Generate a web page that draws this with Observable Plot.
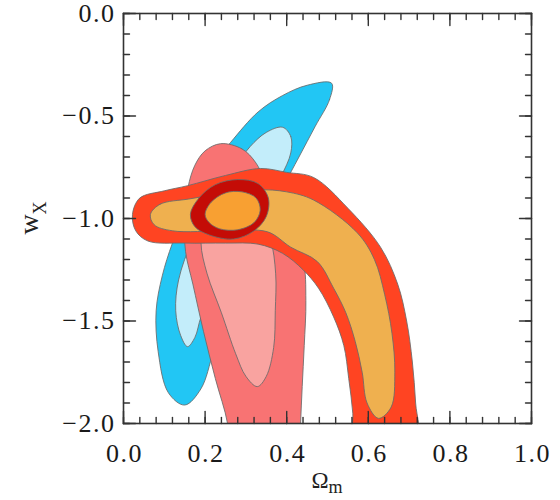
<!DOCTYPE html>
<html><head><meta charset="utf-8">
<script src="https://cdn.jsdelivr.net/npm/d3@7"></script>
<script src="https://cdn.jsdelivr.net/npm/@observablehq/plot@0.6"></script>
<style>body{margin:0;background:#fff}</style>
</head><body><div id="chart"></div>
<script>
// Contours as [Omega_m, w_X] vertex pairs
const snOuter = [[0.51,-0.34],[0.505,-0.42],[0.47,-0.55],[0.43,-0.70],[0.39,-0.85],[0.34,-1.05],[0.29,-1.25],[0.25,-1.45],[0.22,-1.65],[0.19,-1.83],[0.15,-1.91],[0.11,-1.85],[0.085,-1.65],[0.08,-1.45],[0.095,-1.28],[0.12,-1.12],[0.16,-0.93],[0.21,-0.76],[0.262,-0.63],[0.33,-0.48],[0.39,-0.40],[0.45,-0.35]];
const snInner = [[0.39,-0.555],[0.41,-0.60],[0.41,-0.68],[0.385,-0.80],[0.34,-0.97],[0.28,-1.15],[0.225,-1.32],[0.19,-1.48],[0.175,-1.58],[0.157,-1.625],[0.14,-1.57],[0.128,-1.45],[0.135,-1.3],[0.17,-1.1],[0.22,-0.92],[0.27,-0.76],[0.31,-0.65],[0.35,-0.58]];
const clOuter = [[0.238,-0.635],[0.29,-0.66],[0.325,-0.73],[0.36,-0.88],[0.40,-1.02],[0.44,-1.2],[0.447,-1.4],[0.443,-1.62],[0.438,-1.82],[0.434,-2.0],[0.43,-2.2],[0.34,-2.3],[0.26,-2.15],[0.255,-2.0],[0.225,-1.78],[0.196,-1.55],[0.17,-1.32],[0.152,-1.16],[0.15,-1.0],[0.158,-0.85],[0.175,-0.74],[0.2,-0.67]];
const clInner = [[0.28,-0.9],[0.33,-0.98],[0.36,-1.1],[0.373,-1.27],[0.372,-1.45],[0.368,-1.63],[0.35,-1.77],[0.328,-1.82],[0.3,-1.77],[0.275,-1.66],[0.24,-1.46],[0.205,-1.27],[0.19,-1.12],[0.2,-1.0],[0.23,-0.92]];
const combOuter = [[0.022,-0.98],[0.04,-0.90],[0.1,-0.865],[0.157,-0.84],[0.25,-0.79],[0.336,-0.756],[0.40,-0.775],[0.466,-0.80],[0.55,-0.95],[0.63,-1.14],[0.672,-1.32],[0.694,-1.5],[0.708,-1.7],[0.716,-1.9],[0.72,-2.1],[0.64,-2.16],[0.565,-2.1],[0.562,-1.95],[0.552,-1.78],[0.54,-1.62],[0.515,-1.48],[0.478,-1.34],[0.44,-1.25],[0.39,-1.17],[0.33,-1.125],[0.25,-1.12],[0.15,-1.12],[0.06,-1.11],[0.03,-1.06]];
const combInner = [[0.066,-0.98],[0.09,-0.93],[0.16,-0.905],[0.238,-0.88],[0.33,-0.86],[0.40,-0.87],[0.466,-0.91],[0.573,-1.07],[0.615,-1.2],[0.64,-1.37],[0.658,-1.56],[0.665,-1.75],[0.656,-1.92],[0.625,-1.975],[0.597,-1.9],[0.585,-1.75],[0.568,-1.6],[0.545,-1.46],[0.515,-1.34],[0.475,-1.21],[0.41,-1.14],[0.353,-1.065],[0.25,-1.06],[0.12,-1.06],[0.075,-1.03]];
const bestOuter = [[0.164,-0.98],[0.185,-0.9],[0.225,-0.835],[0.28,-0.81],[0.33,-0.83],[0.355,-0.9],[0.35,-0.99],[0.32,-1.06],[0.27,-1.1],[0.21,-1.08],[0.175,-1.04]];
const bestInner = [[0.2,-0.98],[0.215,-0.92],[0.25,-0.875],[0.29,-0.87],[0.325,-0.9],[0.335,-0.96],[0.32,-1.02],[0.28,-1.055],[0.235,-1.05],[0.21,-1.02]];

const xMajor = [0, 0.2, 0.4, 0.6, 0.8, 1.0];
const yMajor = [0, -0.5, -1.0, -1.5, -2.0];
const xMinor = d3.range(0, 26).map(i => +(i * 0.04).toFixed(2));
const yMinor = d3.range(0, 21).map(i => +(-i * 0.1).toFixed(1));

const fmt = d => (d < 0 ? "\u2212" : "") + Math.abs(d).toFixed(1);

function shape(pts, fill) {
  return Plot.line(pts, {x: d => d[0], y: d => d[1], fill, stroke: "#6a6a6a", strokeWidth: 1, strokeOpacity: 0.85, curve: "catmull-rom-closed", clip: true});
}
const tickShape = {draw(ctx, l) { ctx.moveTo(0, 0); ctx.lineTo(0, -l); }};
function ticks(data, side, len) {
  const rot = {bottom: 0, top: 180, left: 90, right: -90}[side];
  const ch = (side === "bottom" || side === "top") ? {x: d => d} : {y: d => d};
  return Plot.vector(data, {...ch, frameAnchor: side, length: len, rotate: rot, anchor: "start", shape: tickShape, stroke: "#333", strokeWidth: 1.4});
}

const chart = Plot.plot({
  width: 560, height: 500,
  marginLeft: 123, marginRight: 29, marginTop: 13, marginBottom: 77,
  x: {domain: [0, 1], axis: null},
  y: {domain: [-2, 0], axis: null},
  style: {fontFamily: "'Liberation Serif', serif", background: "#fff", color: "#222"},
  marks: [
    shape(snOuter, "#22c6f4"),
    shape(snInner, "#c3edfa"),
    shape(clOuter, "#f87373"),
    shape(clInner, "#f9a3a0"),
    shape(combOuter, "#ff4422"),
    shape(combInner, "#efb04f"),
    shape(bestOuter, "#c40c06"),
    shape(bestInner, "#f8a032"),
    Plot.frame({stroke: "#333", strokeWidth: 1.6}),
    ticks(xMinor, "bottom", 6), ticks(xMinor, "top", 6),
    ticks(xMajor, "bottom", 12), ticks(xMajor, "top", 12),
    ticks(yMinor, "left", 6), ticks(yMinor, "right", 6),
    ticks(yMajor, "left", 12), ticks(yMajor, "right", 12),
    Plot.text(xMajor, {x: d => d, frameAnchor: "bottom", dy: 20, dx: 1, lineAnchor: "top", textAnchor: "middle", text: fmt, fontSize: 26, fill: "#1a1a1a", style: "letter-spacing:1.5px"}),
    Plot.text(yMajor, {y: d => d, frameAnchor: "left", dx: -8, lineAnchor: "middle", textAnchor: "end", text: fmt, fontSize: 26, fill: "#1a1a1a"})
  ]
});
document.getElementById("chart").appendChild(chart);

const svg = d3.select(chart);
svg.selectAll("text").filter(function() { return !this.closest("[aria-label]") || true; });
svg.selectAll("g[aria-label='text'] text").style("letter-spacing", "1.5px");

const xs = chart.scale("x"), ys = chart.scale("y");
const xl = svg.append("text").attr("x", xs.apply(0.5)).attr("y", 488).attr("text-anchor", "middle")
  .attr("fill", "#222").style("font-family", "'Liberation Serif', serif").style("font-size", "23px");
xl.append("tspan").text("Ω");
xl.append("tspan").attr("dy", 5).style("font-size", "18px").text("m");
const yl = svg.append("text").attr("transform", `translate(38,${ys.apply(-1)}) rotate(-90)`).attr("text-anchor", "middle")
  .attr("fill", "#222").style("font-family", "'Liberation Serif', serif").style("font-size", "28px");
yl.append("tspan").text("w");
yl.append("tspan").attr("dy", 8).style("font-size", "18px").text("X");
</script>
</body></html>
